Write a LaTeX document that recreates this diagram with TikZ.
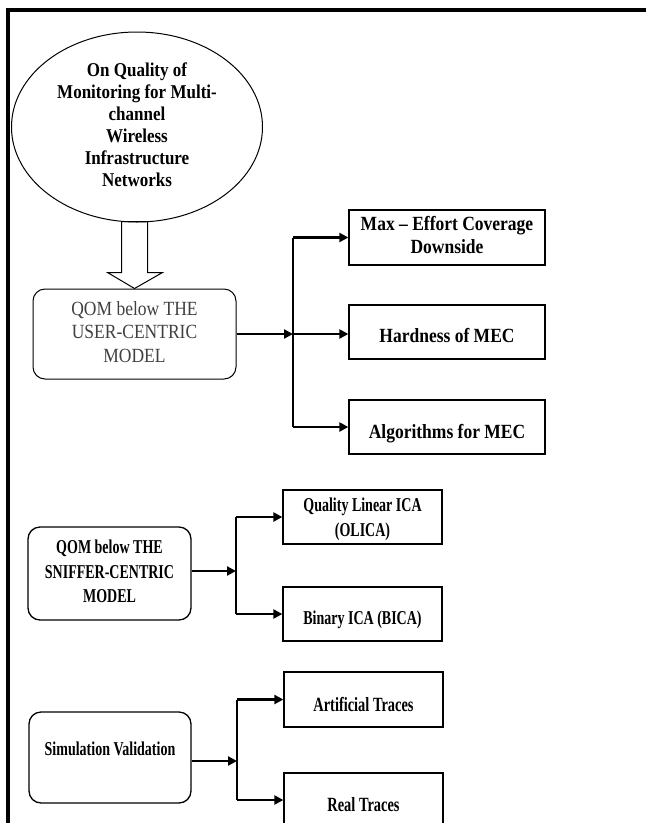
\documentclass[tikz,border=0pt]{standalone}
\usepackage{graphicx}
\usepackage{fontspec}
\setmainfont{Liberation Serif}
\usetikzlibrary{positioning, shapes.geometric, arrows.meta}

% tall (vertically stretched) centred text, optionally lowered
\newcommand{\tallText}[3][0pt]{\raisebox{#1}[\height][\depth]{\scalebox{1}[#2]{\begin{tabular}{@{}c@{}}#3\end{tabular}}}}

\begin{document}
\begin{tikzpicture}[x=1pt, y=-1pt,
        title/.style={ellipse, draw, line width=1pt, minimum width=251pt, minimum height=190pt, inner sep=0pt, align=center, font=\fontsize{17}{19}\selectfont\bfseries},
        model/.style={rectangle, draw, line width=1.3pt, rounded corners=12pt, align=center},
        part/.style={rectangle, draw, line width=1.3pt, align=center, inner sep=1pt},
        link/.style={line width=2.4pt, -{Triangle[length=9pt, width=9pt]}},
        branch/.style={line width=1.6pt},
    ]
        \useasboundingbox (0,0) rectangle (646,823);
        \clip (0,0) rectangle (646,823);
        % Frame
        \draw[line width=4pt] (8,830) -- (8,10) -- (650,10);

        % Nodes
        \node[title] (title) at (137,127) {\tallText{1.15}{On Quality of\\Monitoring for Multi-\\channel\\Wireless\\Infrastructure\\Networks}};
        \node[model, line width=1pt, minimum width=203pt, minimum height=90pt, text=black!75, font=\fontsize{17.5}{20.5}\selectfont] (user) at (134.5,334) {\tallText{1.15}{QOM below THE\\USER-CENTRIC\\MODEL}};
        \node[model, minimum width=163pt, minimum height=93pt, font=\fontsize{14}{17.5}\selectfont\bfseries] (sniffer) at (109.5,573.5) {\tallText{1.4}{QOM below THE\\SNIFFER-CENTRIC\\MODEL}};
        \node[model, minimum width=162pt, minimum height=91pt, font=\fontsize{14}{17.5}\selectfont\bfseries] (sim) at (110,757.5) {\tallText[7pt]{1.4}{Simulation Validation}};

        \node[part, minimum width=196pt, minimum height=55pt, font=\fontsize{17.5}{20}\selectfont\bfseries] (mec) at (447,237.5) {\tallText{1.15}{Max -- Effort Coverage\\Downside}};
        \node[part, minimum width=196pt, minimum height=54pt, font=\fontsize{17.5}{20}\selectfont\bfseries] (hard) at (447,332) {\tallText[-6pt]{1.15}{Hardness of MEC}};
        \node[part, minimum width=196pt, minimum height=54pt, font=\fontsize{17.5}{20}\selectfont\bfseries] (algo) at (447,427) {\tallText[-7pt]{1.15}{Algorithms for MEC}};

        \node[part, minimum width=159pt, minimum height=54pt, font=\fontsize{14}{17.8}\selectfont\bfseries] (olica) at (362.5,517) {\tallText[-2pt]{1.4}{Quality Linear ICA\\(OLICA)}};
        \node[part, minimum width=159pt, minimum height=54pt, font=\fontsize{14}{17.8}\selectfont\bfseries] (bica) at (362.5,614) {\tallText[-6pt]{1.4}{Binary ICA (BICA)}};

        \node[part, minimum width=159pt, minimum height=55pt, font=\fontsize{14.4}{17.8}\selectfont\bfseries] (art) at (363.5,699.5) {\tallText[-7pt]{1.4}{Artificial Traces}};
        \node[part, minimum width=159pt, minimum height=54pt, font=\fontsize{14.4}{17.8}\selectfont\bfseries] (real) at (363.5,800) {\tallText[-7pt]{1.4}{Real Traces}};

        % Junctions
        \coordinate (j1) at (293,334);
        \coordinate (j2) at (236,571);
        \coordinate (j3) at (237,761);

        % Hollow arrow
        \draw[line width=1pt] (user.north) -- ++(-27,-16) -- ++(14,0) -- ++(0,-51) -- ++(26,0) -- ++(0,51) -- ++(15,0) -- cycle;

        % Connectors
        \draw[link] (user.east |- j1) -- (j1);
        \draw[branch] (mec.west -| j1) -- (algo.west -| j1);
        \draw[link] (mec.west -| j1) -- (mec.west);
        \draw[link] (j1) -- (hard.west |- j1);
        \draw[link] (algo.west -| j1) -- (algo.west);

        \draw[link] (sniffer.east |- j2) -- (j2);
        \draw[branch] (olica.west -| j2) -- (bica.west -| j2);
        \draw[link] (olica.west -| j2) -- (olica.west);
        \draw[link] (bica.west -| j2) -- (bica.west);

        \draw[link] (sim.east |- j3) -- (j3);
        \draw[branch] (art.west -| j3) -- (real.west -| j3);
        \draw[link] (art.west -| j3) -- (art.west);
        \draw[link] (real.west -| j3) -- (real.west);
    \end{tikzpicture}
\end{document}
